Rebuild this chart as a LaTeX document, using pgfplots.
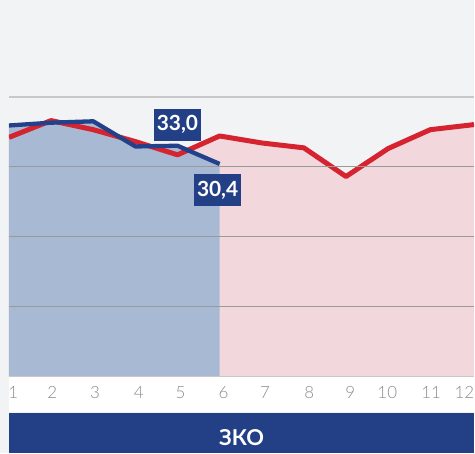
\documentclass[border=0pt]{standalone}
\usepackage{fontspec}
\setmainfont{Lato}
\newfontfamily\lightfont{Lato Light}
\usepackage{pgfplots}
\pgfplotsset{compat=1.18}
\definecolor{bg}{HTML}{F2F3F5}
\definecolor{barblue}{HTML}{233F85}
\definecolor{lineblue}{HTML}{22418A}
\definecolor{linered}{HTML}{D52330}
\definecolor{fillblue}{HTML}{A8B9D3}
\definecolor{fillpink}{HTML}{F2D8DD}
\definecolor{tickgray}{HTML}{8C8C8C}
\definecolor{griddark}{HTML}{9A9A9A}
\definecolor{gridlight}{HTML}{C8C8C8}
\begin{document}
\begin{tikzpicture}
\fill[bg] (-9bp,-77bp) rectangle (466bp,377bp);
\fill[white] (0,-36bp) rectangle (466bp,0);
\fill[barblue] (0,-77bp) rectangle (466bp,-37bp);
\node[text=white,font=\bfseries\fontsize{22}{24}\selectfont,inner sep=0] at (233bp,-61bp) {ЗКО};
\begin{axis}[
  at={(0,0)}, anchor=south west, scale only axis,
  width=466bp, height=377bp,
  xmin=1, xmax=12.043, ymin=0, ymax=53.857,
  axis line style={draw=none},
  tick style={draw=none},
  xtick={1.10,2.03,3.04,4.08,5.07,6.09,7.08,8.13,9.10,9.98,11.02,11.81},
  xticklabels={1,2,3,4,5,6,7,8,9,10,11,12},
  xticklabel style={anchor=center, yshift=-16bp, text=tickgray, font=\lightfont\fontsize{17}{19}\selectfont, inner sep=0},
  ytick={10,20,30}, yticklabels={},
  ymajorgrids, grid style={griddark, line width=0.8bp},
  extra y ticks={0,40}, extra y tick labels={},
  extra y tick style={grid style={gridlight, line width=1.6bp}},
  axis on top,
]
\addplot[fill=fillpink, draw=none] coordinates {(1,34.2) (2,36.6) (3,35.3) (4,33.6) (5,31.7) (6,34.4) (7,33.4) (8,32.7) (9,28.6) (10,32.6) (11,35.3) (12,36.0) (12.043,36.1)} \closedcycle;
\addplot[fill=fillblue, draw=none] coordinates {(1,35.9) (2,36.3) (3,36.5) (4,32.9) (5,33.0) (6,30.4)} \closedcycle;
\addplot[linered, line width=5bp, line join=round] coordinates {(1,34.2) (2,36.6) (3,35.3) (4,33.6) (5,31.7) (6,34.4) (7,33.4) (8,32.7) (9,28.6) (10,32.6) (11,35.3) (12,36.0) (12.043,36.1)};
\addplot[lineblue, line width=4.3bp, line join=round] coordinates {(1,35.9) (2,36.3) (3,36.5) (4,32.9) (5,33.0) (6,30.4)};
\node[fill=barblue, text=white, font=\bfseries\fontsize{21}{23}\selectfont, inner sep=0, minimum width=47bp, minimum height=32bp, anchor=south, yshift=5bp] at (axis cs:5,33.0) {33,0};
\node[fill=barblue, text=white, font=\bfseries\fontsize{21}{23}\selectfont, inner sep=0, minimum width=47bp, minimum height=32bp, anchor=north, yshift=-10bp, xshift=-2bp] at (axis cs:6,30.4) {30,4};
\end{axis}
\end{tikzpicture}
\end{document}
